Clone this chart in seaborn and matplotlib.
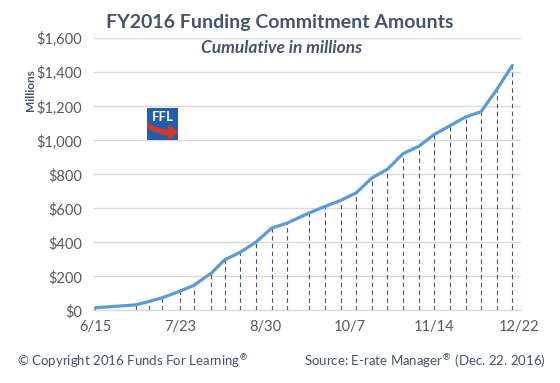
import numpy as np
import pandas as pd
import seaborn as sns
from matplotlib import pyplot as plt
from matplotlib.patches import Rectangle, Polygon

##############################################
# data

dates = [
    "2016-06-15", "2016-07-03", "2016-07-09", "2016-07-15", "2016-07-23",
    "2016-07-29", "2016-08-06", "2016-08-12", "2016-08-19", "2016-08-26",
    "2016-09-02", "2016-09-09", "2016-09-19", "2016-09-26", "2016-10-03",
    "2016-10-10", "2016-10-17", "2016-10-24", "2016-10-31", "2016-11-07",
    "2016-11-14", "2016-11-21", "2016-11-28", "2016-12-05", "2016-12-12",
    "2016-12-19",
]
amounts = [
    16, 33, 53, 75, 114,
    147, 220, 298, 343, 402,
    484, 514, 574, 612, 647,
    692, 779, 831, 922, 965,
    1035, 1086, 1137, 1169, 1298,
    1441,
]

tick_dates = ["2016-06-15", "2016-07-23", "2016-08-30", "2016-10-07", "2016-11-14", "2016-12-22"]
tick_labels = ["6/15", "7/23", "8/30", "10/7", "11/14", "12/22"]
y_ticks = [0, 200, 400, 600, 800, 1000, 1200, 1400, 1600]

##############################################

sns.set_style("white")
plt.rcParams["font.family"] = ["Lato", "DejaVu Sans"]

slate = "#44546A"
tick_color = "#595959"

df = pd.DataFrame({"date": pd.to_datetime(dates), "amount": amounts})

fig = plt.figure(figsize=(5.6, 3.83), dpi=100)
ax = fig.add_axes([0.1661, 0.1893, 0.7643, 0.7107])

# dashed drop lines from each point down to the axis
ax.vlines(df["date"], 0, df["amount"], colors=slate, linestyles=(0, (4, 3)),
          linewidth=0.8, zorder=2)

sns.lineplot(data=df, x="date", y="amount", ax=ax, color="#5B9BD5",
             linewidth=2.3, zorder=3)

ax.set_ylim(0, 1600)
ax.set_yticks(y_ticks)
ax.set_yticklabels([f"${v:,}" for v in y_ticks])
start = pd.Timestamp("2016-06-15")
ax.set_xlim(start - pd.Timedelta(days=1.1), start + pd.Timedelta(days=190.9))
ax.set_xticks(pd.to_datetime(tick_dates))
ax.set_xticklabels(tick_labels)

ax.grid(axis="y", color="#D9D9D9", linewidth=1.0, zorder=0)
ax.grid(axis="x", visible=False)
for side in ["top", "right", "left"]:
    ax.spines[side].set_visible(False)
ax.spines["bottom"].set_color("#D9D9D9")
ax.spines["bottom"].set_linewidth(1.0)
ax.tick_params(axis="both", length=0, labelsize=10.5, labelcolor=tick_color)
ax.tick_params(axis="y", pad=8)
ax.tick_params(axis="x", pad=7)
ax.set_xlabel("")
ax.set_ylabel("")

# titles
fig.text(0.5, 0.94, "FY2016 Funding Commitment Amounts", ha="center", va="center",
         fontsize=14, fontweight="bold", color=slate)
fig.text(0.502, 0.874, "Cumulative in millions", ha="center", va="center",
         fontsize=12.5, fontweight="bold", style="italic", color=slate)
fig.text(0.055, 0.765, "Millions", ha="center", va="center", rotation=90,
         fontsize=8.5, fontweight="bold", color=slate)

# footer
fig.text(0.03, 0.055, "\u00a9 Copyright 2016 Funds For Learning$^{\u00ae}$", ha="left",
         va="center", fontsize=9.5, color=slate)
fig.text(0.974, 0.055, "Source: E-rate Manager$^{\u00ae}$ (Dec. 22. 2016)", ha="right",
         va="center", fontsize=9.5, color=slate)

# FFL logo
lax = fig.add_axes([0.2625, 0.6345, 0.0554, 0.0836])
lax.set_xlim(0, 1)
lax.set_ylim(0, 1)
lax.axis("off")
lax.add_patch(Rectangle((0, 0), 1, 1, color="#1F5FAD"))
lax.text(0.5, 0.73, "FFL", ha="center", va="center", color="white",
         fontsize=9.5, fontweight="bold")
# red swoosh arrow
t = np.linspace(0, 1, 20)
top_x = 0.04 + 0.66 * t
top_y = 0.50 - 0.22 * t ** 0.7
bot_x = 0.04 + 0.66 * t
bot_y = 0.40 - 0.26 * t ** 0.6
band = np.vstack([np.column_stack([top_x, top_y]),
                  [[0.70, 0.46], [0.97, 0.25], [0.70, 0.02]],
                  np.column_stack([bot_x, bot_y])[::-1]])
lax.add_patch(Polygon(band, closed=True, color="#D0392B"))

fig.savefig("out.png", dpi=100)
